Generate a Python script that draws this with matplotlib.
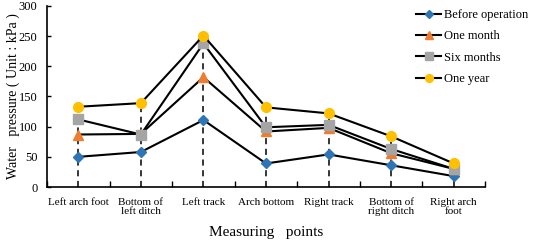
import numpy as np
import matplotlib.pyplot as plt

plt.rcParams['font.family'] = ['Liberation Serif', 'DejaVu Serif']

points = ["Left arch foot", "Bottom of\nleft ditch", "Left track", "Arch bottom",
          "Right track", "Bottom of\nright ditch", "Right arch\nfoot"]
before_operation = [50, 58, 111, 39, 54, 36, 18]
one_month = [87, 88, 182, 92, 98, 56, 30]
six_months = [112, 87, 238, 99, 103, 63, 30]
one_year = [133, 139, 251, 132, 122, 84, 39]

x = np.arange(len(points))

fig = plt.figure(figsize=(5.33, 2.41), dpi=100)
ax = fig.add_axes([47 / 533, 1 - 187 / 241, 438 / 533, 181 / 241])

# dashed guide lines from the axis up to the highest value
ax.vlines(x, 0, one_year, colors='black', linestyles=(0, (4, 3)), linewidth=1.1, zorder=1)

ax.plot(x, before_operation, color='black', lw=1.5, marker='D', ms=5,
        mfc='#2E75B6', mec='#2E75B6', label='Before operation', zorder=3)
ax.plot(x, one_month, color='black', lw=1.5, marker='^', ms=6.5,
        mfc='#ED7D31', mec='#ED7D31', label='One month', zorder=3)
ax.plot(x, six_months, color='black', lw=1.5, marker='s', ms=6.5,
        mfc='#A5A5A5', mec='#A5A5A5', label='Six months', zorder=3)
ax.plot(x, one_year, color='black', lw=1.5, marker='o', ms=7,
        mfc='#FFC000', mec='#FFC000', label='One year', zorder=3)

ax.set_xlim(-0.5, len(points) - 0.5)
ax.set_ylim(0, 300)
ax.set_yticks(range(0, 301, 50))
ax.set_xticks(x)
ax.set_xticklabels(points, fontsize=8, linespacing=1.05)
ax.set_xticks(np.arange(-0.5, len(points), 1), minor=True)
ax.tick_params(axis='x', which='major', length=0, pad=8)
ax.tick_params(axis='x', which='minor', direction='in', length=4, width=1)
ax.tick_params(axis='y', direction='in', length=3, width=1, labelsize=9, pad=7)

for s in ['top', 'right']:
    ax.spines[s].set_visible(False)
for s in ['left', 'bottom']:
    ax.spines[s].set_linewidth(1.2)

ax.set_xlabel('Measuring   points', fontsize=11, labelpad=7)
ax.set_ylabel('Water   pressure ( Unit : kPa )', fontsize=10)
ax.yaxis.set_label_coords(-27 / 438, 0.5)

fig.legend(loc='upper left', bbox_to_anchor=(416 / 533, 1 - 9 / 241), frameon=False,
           fontsize=9, handlelength=2.0, handletextpad=0.2, labelspacing=0.75,
           markerscale=0.8, borderpad=0, borderaxespad=0)

fig.savefig('out.png', dpi=100)
